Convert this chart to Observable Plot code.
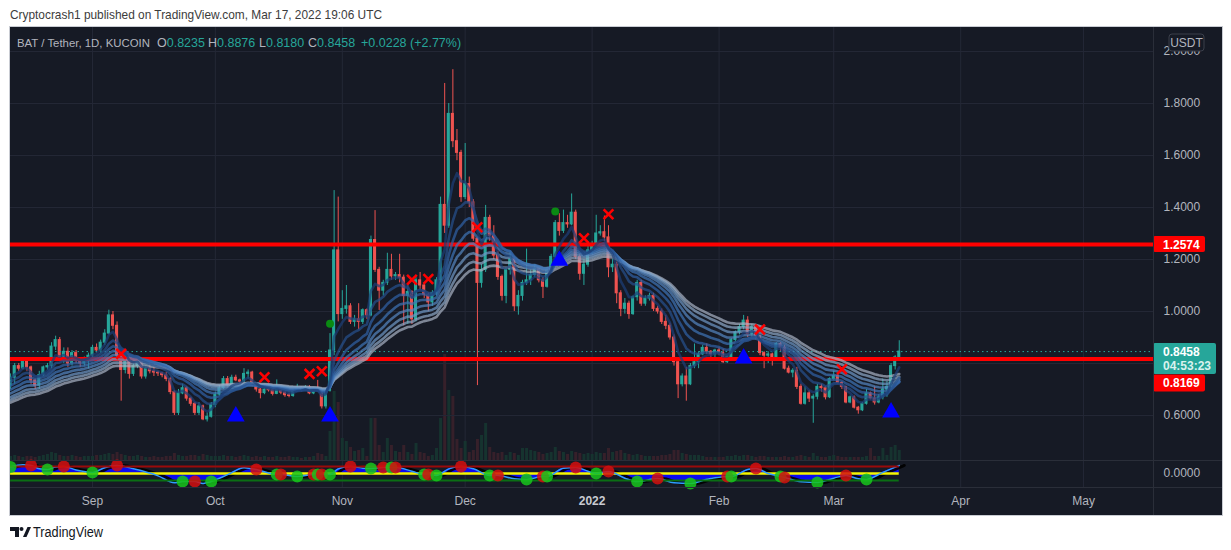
<!DOCTYPE html>
<html><head><meta charset="utf-8">
<script src="https://cdn.jsdelivr.net/npm/d3@7"></script>
<script src="https://cdn.jsdelivr.net/npm/@observablehq/plot@0.6"></script>
<style>
html,body{margin:0;padding:0;background:#fff;}
body{width:1231px;height:550px;overflow:hidden;position:relative;font-family:"Liberation Sans",Arial,sans-serif;}
#frame{position:absolute;left:10px;top:27px;width:1212px;height:488px;background:#161a25;box-shadow:0 0 0 1px #c9ccd3;overflow:hidden;}
#frame svg{position:absolute;left:0;}
.sep{position:absolute;background:#2a2e39;}
#overlay{position:absolute;left:0;top:0;pointer-events:none;}
</style></head><body>
<div id="frame"></div>
<svg id="overlay" width="1231" height="550"></svg>
<script>
// ---------------- data ----------------
const firstDay = Date.UTC(2021, 7, 12);   // first candle: 12 Aug 2021, one candle per day
const firstOpen = 0.715;                  // later opens = previous close
const closes = [
.745,.79,.78,.815,.785,.735,.715,.755,.785,.79,
.865,.89,.815,.845,.80,.84,.81,.80,.815,.83,
.86,.85,.88,.915,.985,.945,.83,.775,.81,.76,
.79,.81,.75,.78,.77,.765,.762,.755,.74,.69,
.61,.685,.705,.665,.645,.61,.635,.585,.595,.64,
.68,.705,.74,.715,.745,.735,.73,.76,.765,.715,
.70,.686,.70,.697,.683,.705,.688,.678,.675,.692,
.705,.70,.708,.685,.70,.695,.635,.695,.85,1.235,
.99,1.01,1.02,.96,.97,.96,1.005,.985,1.275,1.16,
1.08,1.11,1.16,1.135,1.14,1.13,1.06,1.075,.97,1.12,
1.10,1.065,1.035,1.07,1.12,1.41,1.33,1.76,1.655,1.61,
1.44,1.49,1.42,1.28,1.11,1.16,1.36,1.29,1.215,1.133,
1.06,1.16,1.20,1.02,1.06,1.11,1.12,1.14,1.165,1.12,
1.095,1.16,1.21,1.34,1.31,1.34,1.335,1.38,1.21,1.145,
1.18,1.235,1.26,1.30,1.305,1.285,1.17,1.18,1.07,1.01,
1.03,.99,1.055,1.11,1.03,1.05,1.06,1.01,1.0,.96,
.945,.90,.805,.72,.75,.72,.79,.805,.835,.86,
.845,.835,.85,.84,.805,.825,.89,.92,.94,.965,
.912,.94,.905,.84,.83,.835,.825,.875,.86,.78,
.765,.772,.71,.645,.685,.665,.672,.71,.705,.67,
.74,.752,.725,.71,.65,.67,.63,.62,.645,.685,
.665,.65,.67,.70,.71,.79,.8235,.8458];
const highs = [
.76,.80,.80,.82,.82,.79,.74,.77,.79,.80,
.88,.905,.90,.86,.86,.85,.85,.82,.825,.84,
.87,.875,.89,.93,1.005,1.0,.96,.84,.83,.82,
.80,.82,.82,.79,.80,.79,.77,.765,.765,.745,
.695,.70,.72,.71,.67,.65,.65,.64,.61,.65,
.69,.715,.75,.75,.755,.755,.74,.78,.775,.77,
.72,.705,.71,.71,.70,.737,.71,.69,.685,.70,
.72,.71,.715,.715,.705,.735,.70,.70,.915,1.465,
1.44,1.08,1.10,1.03,.985,1.03,1.01,1.01,1.29,1.388,
1.17,1.12,1.224,1.22,1.15,1.22,1.14,1.10,1.08,1.13,
1.15,1.11,1.07,1.08,1.13,1.44,1.877,1.80,1.93,1.70,
1.62,1.646,1.517,1.43,1.28,1.18,1.408,1.37,1.33,1.23,
1.14,1.17,1.23,1.21,1.08,1.12,1.24,1.16,1.18,1.17,
1.13,1.17,1.22,1.35,1.376,1.39,1.37,1.452,1.39,1.22,
1.20,1.25,1.27,1.37,1.33,1.367,1.33,1.20,1.19,1.08,
1.05,1.04,1.06,1.12,1.12,1.06,1.07,1.07,1.02,1.01,
.985,.955,.91,.81,.76,.785,.80,.875,.845,.87,
.875,.85,.855,.86,.855,.83,.895,.925,.95,.985,
.98,.95,.945,.91,.845,.845,.84,.88,.88,.87,
.79,.78,.785,.72,.71,.695,.68,.72,.72,.71,
.745,.77,.76,.73,.71,.675,.675,.635,.65,.70,
.69,.71,.68,.74,.73,.80,.83,.8876];
const lows = [
.70,.72,.77,.775,.77,.72,.70,.70,.75,.775,
.78,.85,.81,.80,.785,.79,.80,.785,.79,.78,
.82,.84,.84,.87,.91,.93,.82,.655,.76,.74,
.75,.78,.74,.74,.76,.75,.75,.745,.73,.68,
.60,.60,.68,.655,.635,.60,.60,.58,.575,.59,
.63,.675,.70,.71,.71,.73,.72,.725,.74,.71,
.69,.664,.68,.69,.675,.68,.68,.67,.668,.67,
.69,.69,.695,.68,.68,.69,.625,.625,.69,.83,
.96,.97,.99,.95,.94,.93,.95,.97,.98,1.15,
1.004,1.06,1.10,1.12,1.12,1.11,.945,.95,.95,.96,
1.08,1.05,1.0,1.02,1.06,1.11,1.30,1.32,1.63,1.58,
1.42,1.43,1.40,1.27,.715,1.09,1.15,1.27,1.20,1.12,
1.04,1.03,1.14,1.0,.986,1.04,1.10,1.10,1.13,1.11,
1.05,1.09,1.15,1.20,1.29,1.30,1.32,1.33,1.20,1.12,
1.10,1.17,1.22,1.25,1.29,1.27,1.13,1.15,1.03,.98,
.99,.97,.985,1.04,1.02,1.02,1.04,1.0,.99,.95,
.93,.89,.79,.665,.71,.655,.715,.78,.78,.83,
.835,.82,.82,.83,.80,.80,.815,.885,.91,.93,
.90,.90,.89,.83,.78,.80,.79,.82,.845,.775,
.76,.745,.70,.64,.64,.65,.57,.66,.69,.66,
.665,.735,.72,.70,.645,.645,.625,.605,.615,.64,
.66,.64,.645,.66,.67,.70,.775,.818];
// volume, in the picture's own units (bar height)
const volumes = [
4,5,4,3,4,4,3,4,5,6, 8,7,5,4,4,5,4,3,4,4,
4,5,5,6,7,6,8,6,5,4, 4,5,4,3,3,4,3,3,4,4,
7,5,4,4,5,5,4,6,5,4, 4,4,5,4,4,3,4,5,4,3,
4,3,4,3,3,4,3,3,4,3, 3,2,3,3,4,7,6,4,29,69,
58,22,19,13,9,10,12,4,42,42, 15,8,22,15,9,8,15,8,6,17,
8,7,4,5,12,42,106,70,64,21, 12,19,8,10,21,25,37,13,8,7,
8,5,8,7,5,12,12,10,9,8, 6,7,8,13,9,8,6,9,8,7,
6,7,6,8,7,7,12,8,9,10, 7,6,5,6,5,4,4,4,4,5,
5,6,10,10,7,6,5,5,5,4, 3,3,3,3,3,4,4,5,4,5,
5,4,3,4,4,3,3,3,3,4, 3,3,4,5,4,3,7,4,3,3,
4,5,4,3,3,3,3,3,3,4, 12,4,4,12,5,13,15,10];
const volumeMax = 433;

// EMA ribbon: periods and their values on the first day
const emaPeriods = [5, 10, 15, 20, 25, 30, 35, 40];
const emaSeeds   = [0.74, 0.725, 0.71, 0.695, 0.68, 0.665, 0.655, 0.645];

const levelPrices = [1.2574, 0.8169];
const lastPrice = 0.8458;
const lastOpen = 0.8235, lastHigh = 0.8876, lastLow = 0.8180, lastChange = 0.0228, lastChangePct = 2.77;
const countdown = "04:53:23";

// signal markers (day index from 12 Aug 2021)
const sellDays   = [27, 62, 73, 76, 98, 102, 114, 140, 146, 183, 203];
const sellPrices = [.837, .747, .76, .77, 1.122, 1.125, 1.324, 1.282, 1.374, .931, .778];
const buyDays    = [55, 78, 134, 179, 215];
const buyPrices  = [.597, .597, 1.196, .82, .612];
const dotDays    = [78, 133];
const dotPrices  = [.953, 1.385];

// oscillator pane
const obLevel = 60, osLevel = -60;
const crossDays   = [0,5,9,13,20,26,42,45,49,60,65,66,70,74,75,76,78,83,88,91,93,94,101,102,104,110,117,119,126,130,131,138,143,146,153,158,166,175,176,182,188,189,197,204,209];
const crossValues = [55,69,34,60,9,69,-69,-69,-69,34,-9,-9,-26,-9,-9,-9,-9,60,43,51,51,51,-9,-9,-17,60,-17,-17,-51,-26,-26,51,0,17,-69,-43,-86,-26,-26,43,-26,-34,-77,-17,-51];
const waveDays   = [0,3,5,7,9,11,13,16,20,23,26,30,36,40,42,45,47,49,53,57,60,63,65,66,70,74,75,76,78,80,83,86,88,91,93,94,98,101,102,104,107,110,113,117,119,123,126,130,131,135,138,141,143,146,150,153,158,162,166,170,175,176,180,182,185,188,189,193,197,201,204,207,209,213,217];
const waveValues = [55,75,69,40,34,55,60,30,9,50,69,40,-20,-80,-69,-69,-85,-69,-10,50,34,5,-9,-9,-26,-9,-9,-9,-9,40,60,45,43,51,51,51,20,-9,-9,-17,40,60,40,-17,-17,-45,-51,-26,-26,45,51,20,0,17,-40,-69,-43,-80,-86,-50,-26,-26,35,43,0,-26,-34,-70,-77,-40,-17,-45,-51,10,69];

const priceTicks = [0.6, 1.0, 1.2, 1.4, 1.6, 1.8, 2.0];
const gridPrices = [0.6, 0.8, 1.0, 1.2, 1.4, 1.6, 1.8, 2.0];
const oscTicks = [0];

// ---------------- build ----------------
const UP = "#26a69a", DOWN = "#ef5350", GRID = "#242836", TXT = "#b2b5be";
const FONT = "'Liberation Sans', Arial, sans-serif";
const day = i => new Date(firstDay + i * 864e5);
const candles = closes.map((c, i) => ({
  date: day(i), open: i ? closes[i - 1] : firstOpen, close: c, high: highs[i], low: lows[i], vol: volumes[i]
}));
candles.forEach(d => d.up = d.close >= d.open);

const ribbon = [];
emaPeriods.forEach((p, k) => {
  const a = 2 / (p + 1);
  let e = emaSeeds[k];
  closes.forEach((c, i) => { e = e + a * (c - e); ribbon.push({date: day(i), value: e, k}); });
});
const ribbonColors = ["#1d3f78","#26518f","#3063a6","#3e75b7","#5687c2","#6f98c6","#8ea9c8","#aab4c5"];
ribbon.sort((a, b) => b.k - a.k);

const sells = sellDays.map((d, i) => ({date: day(d), price: sellPrices[i]}));
const buys = buyDays.map((d, i) => ({date: day(d), price: buyPrices[i]}));
const dots = dotDays.map((d, i) => ({date: day(d), price: dotPrices[i]}));
const crosses = crossDays.map((d, i) => ({date: day(d), v: crossValues[i], up: i % 2 === 0}));
const wave = waveDays.map((d, i) => ({date: day(d), v: waveValues[i]}));

const W = 1212, MAIN_H = 433, IND_H = 55, MR = 69;
const xDomain = [new Date(Date.UTC(2021, 7, 11, 23, 30)), new Date(Date.UTC(2022, 4, 18, 2))];
const monthTicks = d3.utcMonth.range(new Date(Date.UTC(2021, 8, 1)), new Date(Date.UTC(2022, 5, 1)));
const firstDate = candles[0].date, lastDate = candles[candles.length - 1].date;
const baseStyle = {background: "transparent", fontFamily: FONT, fontSize: "12px", color: TXT, overflow: "visible"};

const volPlot = Plot.plot({
  width: W, height: MAIN_H, marginLeft: 0, marginRight: MR, marginTop: 0, marginBottom: 0,
  style: baseStyle,
  x: {type: "utc", domain: xDomain, axis: null},
  y: {domain: [0, volumeMax], axis: null},
  marks: [
    Plot.ruleX(monthTicks, {stroke: GRID}),
    Plot.ruleX(candles, {x: "date", y: "vol", stroke: d => d.up ? "#16332f" : "#36202a", strokeWidth: 3})
  ]
});

const main = Plot.plot({
  width: W, height: MAIN_H, marginLeft: 0, marginRight: MR, marginTop: 0, marginBottom: 0,
  style: baseStyle,
  x: {type: "utc", domain: xDomain, axis: null},
  y: {domain: [0.4269, 2.0923], axis: null},
  marks: [
    Plot.ruleY(gridPrices, {stroke: GRID}),
    Plot.text(priceTicks, {y: d => d, text: d => d.toFixed(4), frameAnchor: "right", textAnchor: "start", dx: 10, fill: TXT, fontSize: 12}),
    Plot.ruleX(candles, {x: "date", y1: "low", y2: "high", stroke: d => d.up ? UP : DOWN, strokeWidth: 1}),
    Plot.rect(candles, {x1: d => d3.utcHour.offset(d.date, -9), x2: d => d3.utcHour.offset(d.date, 9),
      y1: "open", y2: "close", fill: d => d.up ? UP : DOWN, insetTop: -0.5, insetBottom: -0.5}),
    Plot.ruleY(levelPrices, {stroke: "#ff0000", strokeWidth: 4}),
    Plot.ruleY([lastPrice], {stroke: UP, strokeDasharray: "1.5,3", strokeWidth: 1}),
    Plot.line(ribbon, {x: "date", y: "value", z: "k", stroke: d => ribbonColors[d.k], strokeWidth: 2.6, strokeOpacity: 0.7}),
    Plot.dot(sells, {x: "date", y: "price", symbol: "times", r: 4.5, stroke: "#ff0000", strokeWidth: 2.6}),
    Plot.dot(buys, {x: "date", y: "price", symbol: "triangle", r: 6.6, fill: "#0000ff", stroke: "none"}),
    Plot.dot(dots, {x: "date", y: "price", r: 4, fill: "#0a8a12", stroke: "none"})
  ]
});

const ind = Plot.plot({
  width: W, height: IND_H, marginLeft: 0, marginRight: MR, marginTop: 0, marginBottom: 28,
  style: baseStyle,
  x: {type: "utc", domain: xDomain, axis: "bottom", ticks: monthTicks, tickSize: 0, tickPadding: 9, label: null,
      tickFormat: d => d.getUTCMonth() === 0 ? String(d.getUTCFullYear()) : d3.utcFormat("%b")(d)},
  y: {domain: [-120, 111.4], axis: null},
  marks: [
    Plot.ruleX(monthTicks, {stroke: GRID}),
    Plot.areaY(wave, {x: "date", y1: 0, y2: "v", fill: "#0a0af0", curve: "monotone-x"}),
    Plot.line(wave, {x: "date", y: "v", stroke: "#000", strokeWidth: 3, curve: "monotone-x", dx: 5, strokeOpacity: 0.9}),
    Plot.ruleY([0], {x1: firstDate, x2: lastDate, stroke: "#f5f500", strokeWidth: 2.5}),
    Plot.line(wave, {x: "date", y: "v", stroke: "#2f9bff", strokeWidth: 1.5, curve: "monotone-x"}),
    Plot.ruleY([obLevel], {x1: firstDate, x2: lastDate, stroke: "#9a0a0a", strokeWidth: 2}),
    Plot.ruleY([osLevel], {x1: firstDate, x2: lastDate, stroke: "#0b6e14", strokeWidth: 2}),
    Plot.dot(crosses, {x: "date", y: "v", r: 6, fill: d => d.up ? "#17c51c" : "#d30f0f", fillOpacity: 0.85, stroke: "none"}),
    Plot.text(oscTicks, {y: d => d, text: d => d.toFixed(4), frameAnchor: "right", textAnchor: "start", dx: 10, fill: TXT, fontSize: 12})
  ]
});

const frame = document.getElementById("frame");
volPlot.style.top = "0px"; main.style.top = "0px"; ind.style.top = MAIN_H + "px";
frame.append(volPlot, main, ind);
d3.select(ind).selectAll("text").filter(function(){ return /^\d{4}$/.test(this.textContent); }).attr("font-weight", "bold").attr("fill", "#c8cad1");

// separators
function sep(l, t, w, h){ const s = document.createElement("div"); s.className = "sep"; Object.assign(s.style, {left: l+"px", top: t+"px", width: w+"px", height: h+"px"}); frame.append(s); }
sep(0, MAIN_H, W, 1); sep(0, MAIN_H + 27, W, 1); sep(W - MR, 0, 1, 488);

// price tags on the axis, placed through the y scale
const ys = main.scale("y");
const g = d3.select(main).append("g").attr("font-family", FONT).attr("font-size", 12).attr("text-anchor", "start");
const xr = W - MR;
function tag(top, h, w, fill, lines){
  g.append("rect").attr("x", xr).attr("y", top).attr("width", w).attr("height", h).attr("rx", 2).attr("fill", fill);
  lines.forEach((t, i) => g.append("text").attr("x", xr + 10).attr("y", top + 12.5 + i * 14).attr("fill", t[1]).attr("font-weight", "bold").text(t[0]));
}
tag(ys.apply(levelPrices[0]) - 8, 16, 52, "#ff0000", [[levelPrices[0].toFixed(4), "#fff"]]);
const lt = ys.apply(lastPrice) - 8;
tag(lt, 31, 63, "#26a69a", [[lastPrice.toFixed(4), "#fff"], [countdown, "#d9f2ef"]]);
tag(lt + 31.5, 17, 52, "#ff0000", [[levelPrices[1].toFixed(4), "#fff"]]);
// USDT box
g.append("rect").attr("x", 1159).attr("y", 7).attr("width", 35).attr("height", 17).attr("rx", 3).attr("fill", "#161a25").attr("stroke", "#3b3f4b");
g.append("text").attr("x", 1176.5).attr("y", 20).attr("text-anchor", "middle").attr("fill", TXT).text("USDT");

// page texts
const ov = d3.select("#overlay").attr("font-family", FONT);
ov.append("text").attr("x", 10).attr("y", 19).attr("font-size", 13).attr("fill", "#3c3c3c")
  .attr("textLength", 372).attr("lengthAdjust", "spacingAndGlyphs")
  .text("Cryptocrash1 published on TradingView.com, Mar 17, 2022 19:06 UTC");
const lg = ov.append("g").attr("font-size", 12.5);
lg.append("text").attr("x", 17).attr("y", 46.5).attr("fill", TXT).attr("font-size", 11.4).text("BAT / Tether, 1D, KUCOIN");
const legendItems = [[157, "O", lastOpen], [208, "H", lastHigh], [259, "L", lastLow], [308, "C", lastPrice]];
legendItems.forEach(([x, k, v]) => {
  const t = lg.append("text").attr("x", x).attr("y", 46.5).attr("fill", TXT);
  t.append("tspan").text(k);
  t.append("tspan").attr("fill", UP).text(v.toFixed(4));
});
lg.append("text").attr("x", 361).attr("y", 46.5).attr("fill", UP).text(`+${lastChange.toFixed(4)} (+${lastChangePct.toFixed(2)}%)`);
// footer
const ft = ov.append("g").attr("fill", "#131722");
ft.append("path").attr("d", "M10 527h9v10h-4v-6h-5z");
ft.append("circle").attr("cx", 21.5).attr("cy", 529).attr("r", 2);
ft.append("path").attr("d", "M23 537l4.5-10h3.5l-4.5 10z");
ft.append("text").attr("x", 33).attr("y", 537).attr("font-size", 14).attr("textLength", 70).attr("lengthAdjust", "spacingAndGlyphs").text("TradingView");
</script>
</body></html>
